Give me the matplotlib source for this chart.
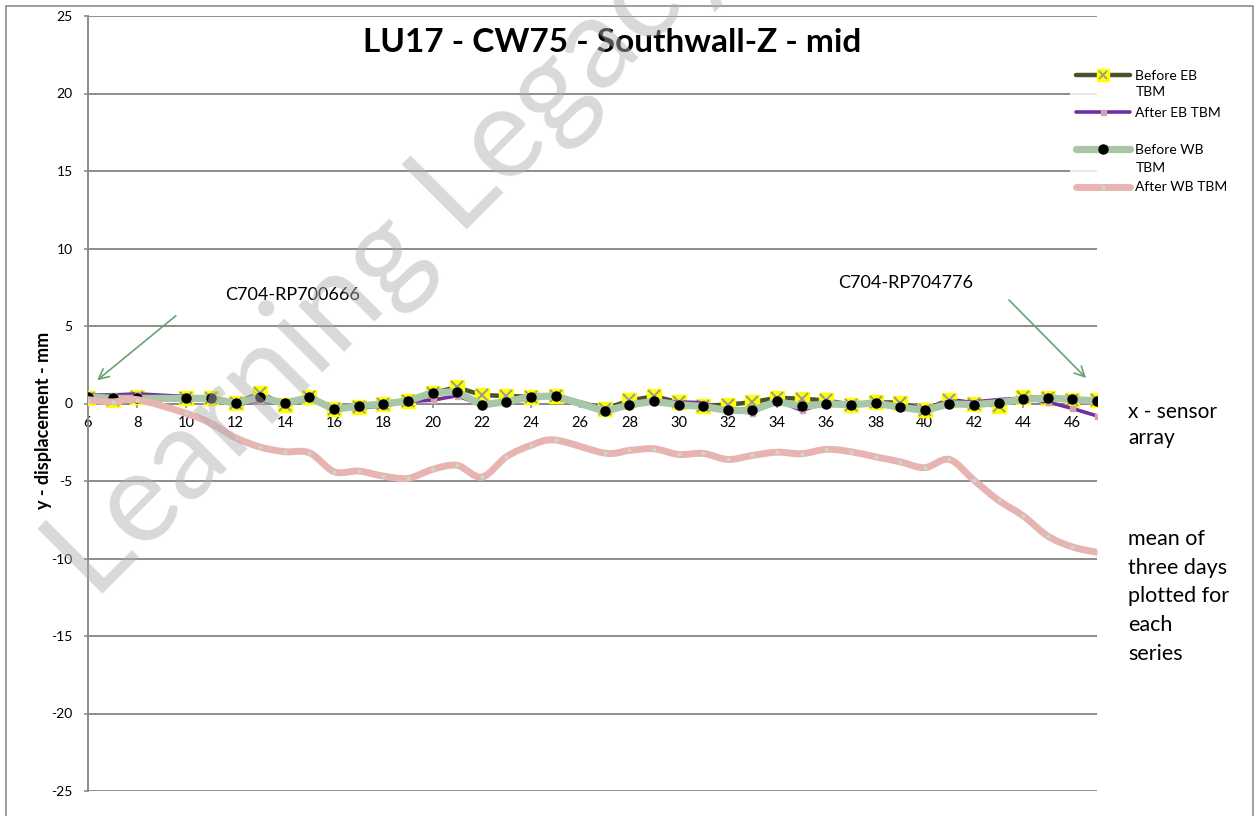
import numpy as np
import matplotlib
matplotlib.use("Agg")
import matplotlib.pyplot as plt
from matplotlib.path import Path
from matplotlib.patches import PathPatch, Rectangle
from matplotlib.lines import Line2D
from matplotlib.legend_handler import HandlerTuple

# ---------------- data ----------------
sensor_x = [6, 7, 8, 10, 11, 12, 13, 14, 15, 16, 17, 18, 19, 20, 21, 22, 23, 24, 25,
            27, 28, 29, 30, 31, 32, 33, 34, 35, 36, 37, 38, 39, 40, 41, 42, 43, 44, 45, 46, 47]

before_eb = [0.33, 0.23, 0.40, 0.33, 0.33, 0.05, 0.66, -0.10, 0.40, -0.38, -0.20, -0.03, 0.18,
             0.70, 1.04, 0.55, 0.48, 0.44, 0.50, -0.35, 0.20, 0.46, 0.09, -0.13, -0.08, 0.09,
             0.37, 0.31, 0.20, -0.08, 0.09, 0.05, -0.41, 0.25, 0.00, -0.13, 0.42, 0.37, 0.25, 0.20]

after_eb = [0.55, 0.55, 0.62, 0.45, 0.35, -0.10, 0.20, 0.00, 0.40, -0.35, -0.30, -0.15, 0.12,
            0.22, 0.50, -0.10, 0.12, 0.45, 0.50, -0.40, 0.00, 0.20, 0.10, 0.05, -0.50, -0.60,
            0.20, -0.45, 0.05, 0.00, 0.05, -0.15, -0.35, 0.15, 0.10, 0.25, 0.35, 0.10, -0.32, -0.80]

before_wb = [0.44, 0.33, 0.33, 0.33, 0.33, 0.01, 0.40, 0.01, 0.40, -0.38, -0.16, -0.03, 0.16,
             0.70, 0.76, -0.10, 0.12, 0.44, 0.48, -0.50, -0.08, 0.14, -0.08, -0.19, -0.45, -0.45,
             0.14, -0.19, -0.02, -0.08, 0.03, -0.24, -0.45, -0.02, -0.07, 0.05, 0.27, 0.35, 0.27, 0.15]

after_wb = [0.25, 0.10, 0.25, -0.64, -1.29, -2.21, -2.81, -3.11, -3.18, -4.40, -4.36, -4.68, -4.83,
            -4.25, -3.99, -4.75, -3.44, -2.70, -2.36, -3.20, -3.03, -2.92, -3.29, -3.22, -3.61, -3.35,
            -3.14, -3.24, -2.96, -3.11, -3.44, -3.76, -4.14, -3.61, -4.95, -6.25, -7.25, -8.55, -9.25, -9.60]

series_labels = ["Before EB", "After EB TBM", "Before WB", "After WB TBM"]
x_ticks = list(range(6, 47, 2))
y_ticks = list(range(-25, 26, 5))

title = "LU17 - CW75 - Southwall-Z - mid"
y_label = "y - displacement - mm"

# ---------------- figure ----------------
W, H = 1254, 816
plt.rcParams["font.family"] = ["Lato", "DejaVu Sans"]
plt.rcParams["axes.unicode_minus"] = False
fig = plt.figure(figsize=(W / 100, H / 100), dpi=100)


def fx(px):
    return px / W


def fy(py):
    return 1 - py / H


# outer chart frame
fig.patches.append(Rectangle((fx(6), fy(830)), fx(1253) - fx(6), fy(6) - fy(830),
                             transform=fig.transFigure, fill=False,
                             edgecolor="#8c8c8c", lw=1.2, zorder=0))

ax = fig.add_axes([fx(88), fy(791), fx(1097) - fx(88), fy(16) - fy(791)])
ax.set_xlim(6, 47)
ax.set_ylim(-25, 25)
ax.set_facecolor("none")

grid_c = "#8c8c8c"
ax.set_yticks(y_ticks)
ax.set_xticks(x_ticks)
ax.yaxis.grid(True, color=grid_c, lw=1.4)
ax.set_axisbelow(True)
for s in ["top", "right"]:
    ax.spines[s].set_visible(False)
ax.spines["left"].set_color(grid_c)
ax.spines["left"].set_linewidth(1.4)
ax.spines["bottom"].set_position(("data", 0))
ax.spines["bottom"].set_color(grid_c)
ax.spines["bottom"].set_linewidth(1.4)
ax.tick_params(axis="y", direction="out", length=3, width=1.2, color=grid_c,
               labelsize=10, pad=8)
ax.tick_params(axis="x", direction="out", length=3, width=1.2, color=grid_c,
               labelsize=10.5, pad=6)

# series
c_olive = "#4b502e"
c_purple = "#7030a0"
c_green = "#a9c6a6"
c_pink = "#e8b4b2"

l1, = ax.plot(sensor_x, before_eb, color=c_olive, lw=3.2, marker="s", ms=10.5,
              mfc="#ffff00", mec="#ffff00", zorder=3, solid_capstyle="round")
l1x, = ax.plot(sensor_x, before_eb, ls="none", marker="x", ms=8, mec="#9a9a9a",
               mew=1.4, zorder=3.1)
l2, = ax.plot(sensor_x, after_eb, color=c_purple, lw=2.6, marker="s", ms=3.6,
              mfc="#d4a0b4", mec="#d4a0b4", zorder=4, solid_capstyle="round")
l3, = ax.plot(sensor_x, before_wb, color=c_green, lw=5.2, marker="o", ms=6.5,
              mfc="black", mec="black", zorder=5, solid_capstyle="round")


def smooth_path(xs, ys):
    pts = np.column_stack([xs, ys]).astype(float)
    n = len(pts)
    verts = [pts[0]]
    codes = [Path.MOVETO]
    for i in range(n - 1):
        p0 = pts[i - 1] if i > 0 else pts[i]
        p1 = pts[i]
        p2 = pts[i + 1]
        p3 = pts[i + 2] if i + 2 < n else pts[i + 1]
        c1 = p1 + (p2 - p0) / 6.0
        c2 = p2 - (p3 - p1) / 6.0
        verts += [c1, c2, p2]
        codes += [Path.CURVE4] * 3
    return Path(verts, codes)


ax.add_patch(PathPatch(smooth_path(sensor_x, after_wb), fill=False, edgecolor=c_pink,
                       lw=5, capstyle="round", joinstyle="round", zorder=6))
ax.plot(sensor_x, after_wb, ls="none", marker="o", ms=2.8, mfc="#c6dcc4",
        mec="none", zorder=6.1)
l4 = Line2D([], [], color=c_pink, lw=5, marker="s", ms=3, mfc="#c6dcc4", mec="none",
            solid_capstyle="round")

# legend
l1_leg = Line2D([], [], color=c_olive, lw=3.2, marker="s", ms=8, mfc="#ffff00",
                mec="#ffff00", solid_capstyle="round")
l1x_leg = Line2D([], [], ls="none", marker="x", ms=6, mec="#9a9a9a", mew=1.3)
leg = fig.legend([(l1_leg, l1x_leg), l2, l3, l4], series_labels,
                 handler_map={tuple: HandlerTuple(ndivide=1)},
                 loc="upper left", bbox_to_anchor=(fx(1070), fy(64)),
                 bbox_transform=fig.transFigure, borderaxespad=0, borderpad=0.4,
                 fontsize=10, handlelength=3.9, handletextpad=0.35, labelspacing=1.82,
                 numpoints=1, frameon=True, fancybox=False)
leg.get_frame().set_edgecolor("none")
leg.get_frame().set_facecolor("white")
fig.text(fx(1136), fy(92), "TBM", fontsize=10, va="center", ha="left", zorder=10)
fig.text(fx(1136), fy(168), "TBM", fontsize=10, va="center", ha="left", zorder=10)

# titles and labels
fig.text(fx(612), fy(42), title, fontsize=24, fontweight="bold", ha="center", va="center")
fig.text(fx(44), fy(420), y_label, fontsize=13, fontweight="bold", rotation=90,
         ha="center", va="center")

# annotations
arrow_c = "#6aa272"
fig.text(fx(293), fy(295), "C704-RP700666", fontsize=13, ha="center", va="center")
fig.text(fx(906), fy(283), "C704-RP704776", fontsize=13, ha="center", va="center")
ax.annotate("", xy=(fx(95), fy(382)), xytext=(fx(178), fy(314)),
            xycoords="figure fraction", textcoords="figure fraction",
            arrowprops=dict(arrowstyle="->", color=arrow_c, lw=1.2, mutation_scale=18))
ax.annotate("", xy=(fx(1088), fy(380)), xytext=(fx(1007), fy(298)),
            xycoords="figure fraction", textcoords="figure fraction",
            arrowprops=dict(arrowstyle="->", color=arrow_c, lw=1.2, mutation_scale=18))

fig.text(fx(1128), fy(402), "x - sensor\narray", fontsize=15, ha="left", va="top",
         linespacing=1.35)
fig.text(fx(1128), fy(529), "mean of\nthree days\nplotted for\neach\nseries", fontsize=15.5,
         ha="left", va="top", linespacing=1.54)

# watermark
fig.text(fx(95), fy(602), "Learning Legacy", fontsize=92, color="#b0b0b0", alpha=0.48,
         rotation=45, rotation_mode="anchor", ha="left", va="baseline", zorder=20)

fig.savefig("out.png", dpi=100)
